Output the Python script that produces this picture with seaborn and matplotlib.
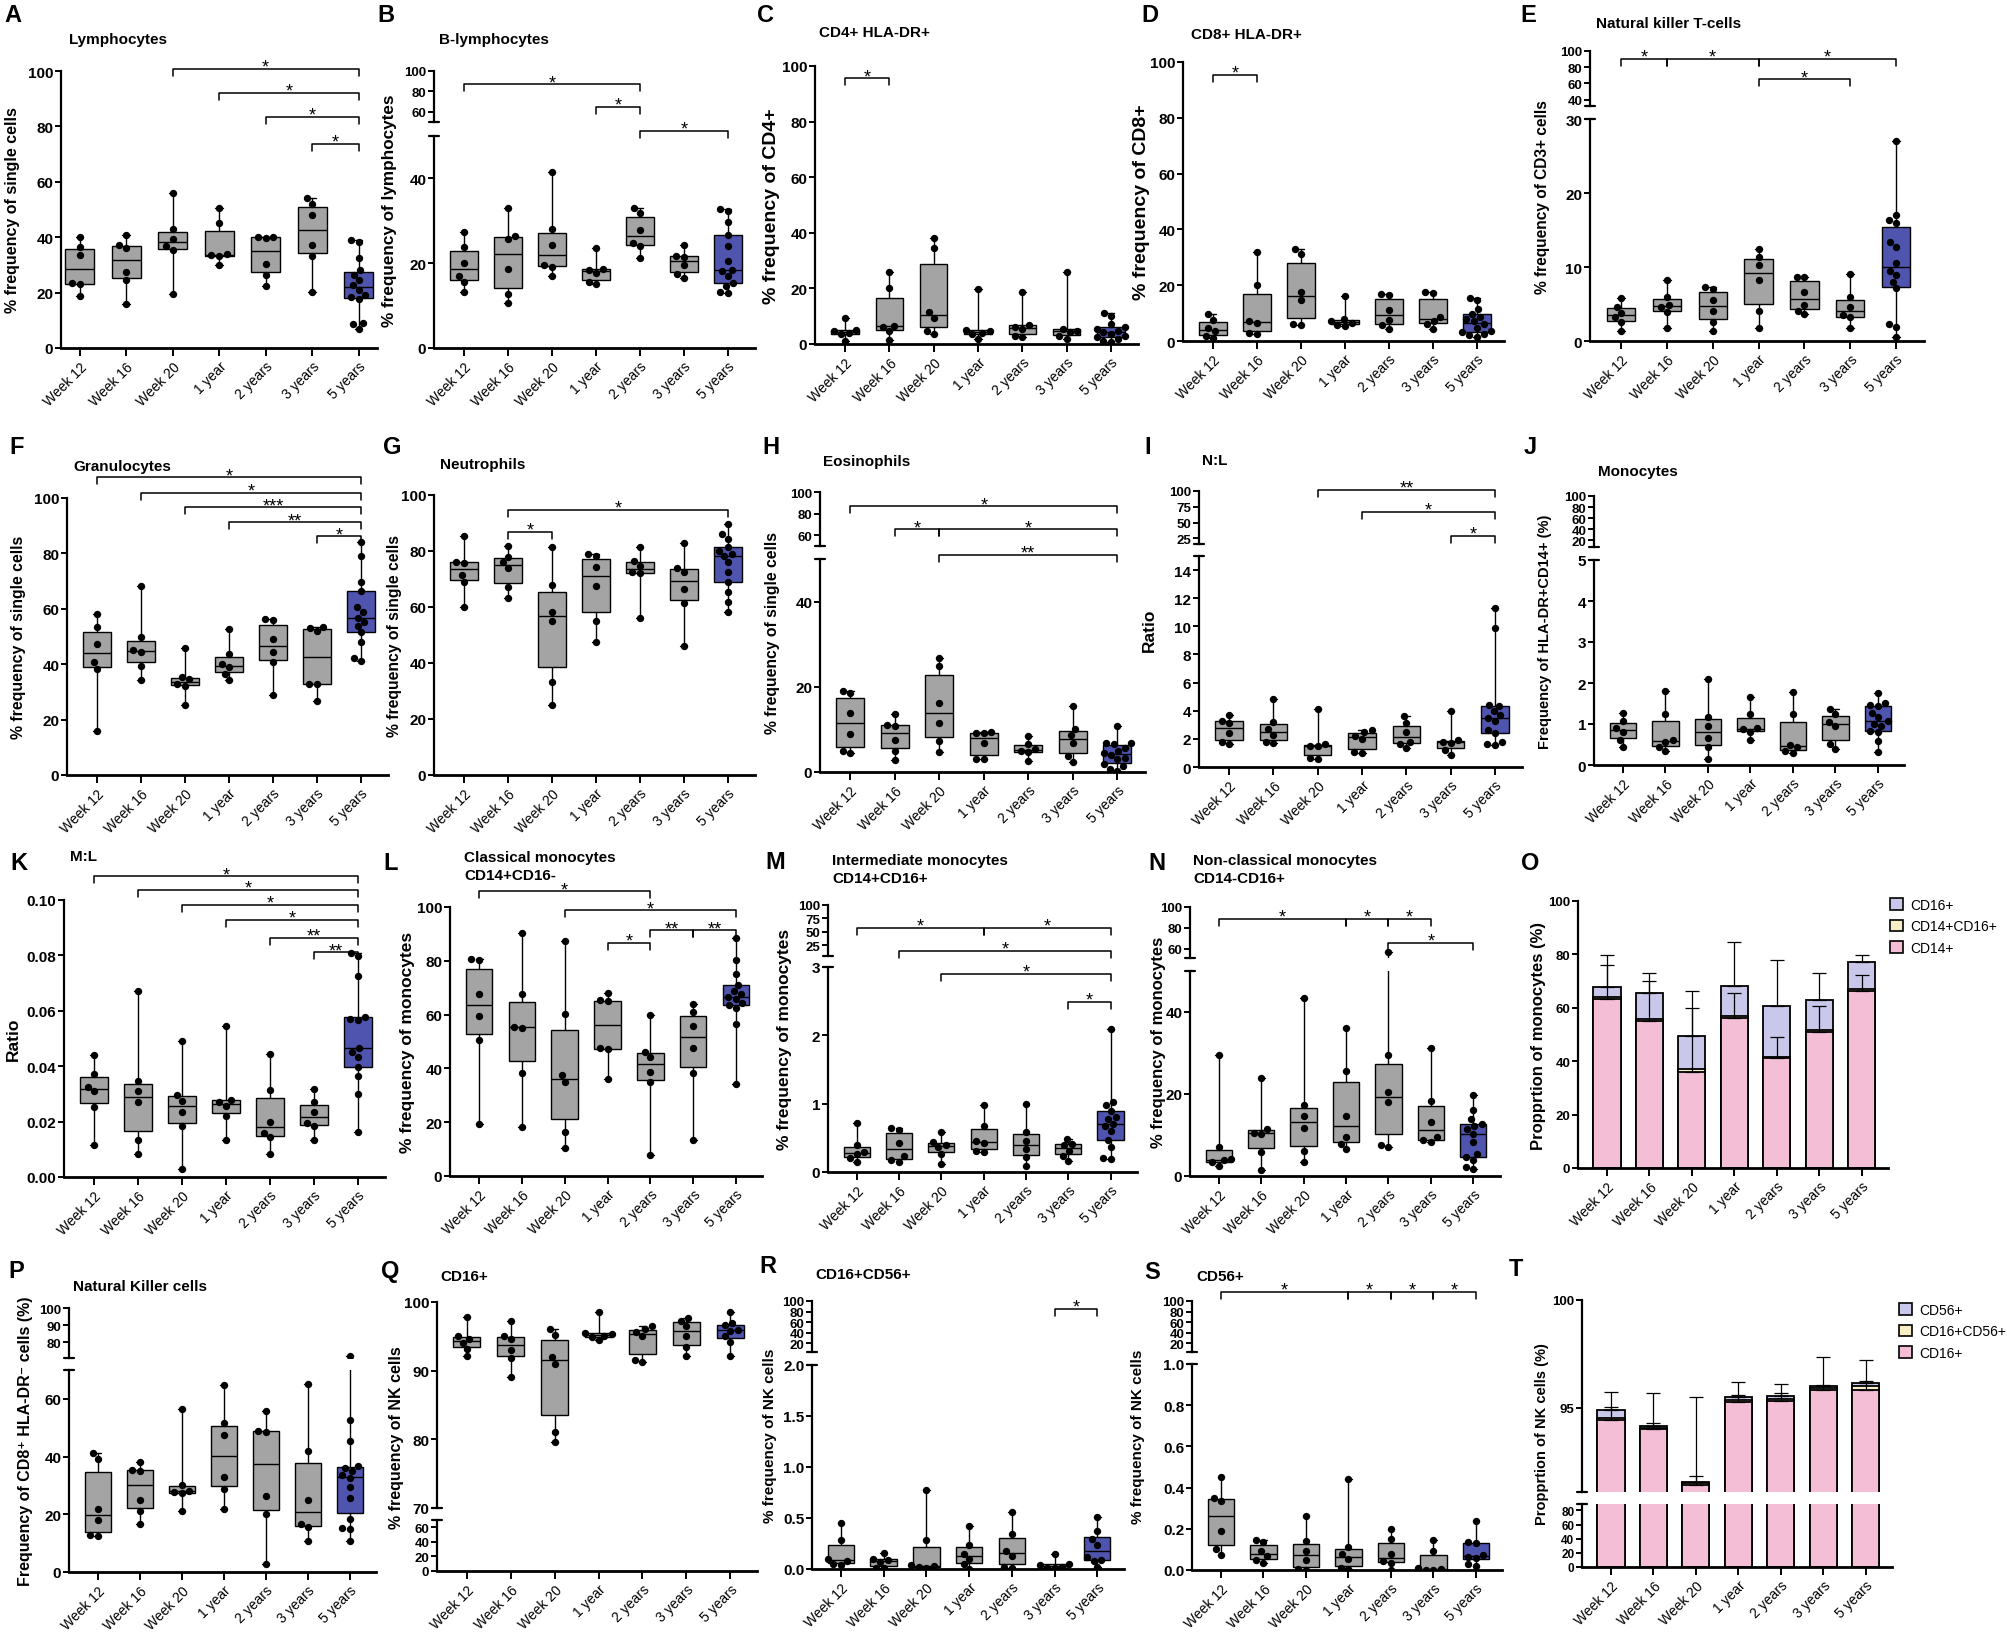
import numpy as np
import pandas as pd
import matplotlib
matplotlib.use("Agg")
import matplotlib.pyplot as plt
from matplotlib.patches import Patch
from matplotlib.ticker import FormatStrFormatter
import seaborn as sns

sns.set_theme(style="ticks")
plt.rcParams["font.family"] = ["Liberation Sans", "DejaVu Sans"]
plt.rcParams.update({"text.color": "black", "axes.labelcolor": "black",
                     "xtick.color": "black", "ytick.color": "black",
                     "axes.edgecolor": "black"})

groups = ["Week 12", "Week 16", "Week 20", "1 year", "2 years", "3 years", "5 years"]

# --- values, one list per time point ---
lymphocytes = [
    [40.0, 36.5, 33.5, 23.6, 23.0, 18.7],
    [40.7, 37.2, 36.0, 27.5, 24.5, 15.8],
    [56.0, 42.9, 39.5, 37.0, 35.5, 19.6],
    [50.6, 45.2, 33.8, 33.6, 33.3, 29.9],
    [40.2, 40.0, 39.8, 30.5, 26.3, 22.4],
    [54.0, 52.0, 48.0, 37.1, 33.3, 20.2],
    [38.9, 38.3, 32.5, 28.0, 26.3, 24.5, 22.9, 21.0, 19.2, 18.4, 17.8, 9.2, 8.8, 7.0],
]
b_lymphocytes = [
    [27.3, 23.8, 20.1, 17.0, 15.6, 13.2],
    [33.0, 26.3, 25.7, 18.7, 12.7, 10.5],
    [41.4, 28.0, 24.2, 19.5, 19.2, 17.0],
    [23.6, 18.6, 18.4, 17.8, 15.6, 15.0],
    [33.0, 31.8, 27.9, 24.8, 24.0, 21.3],
    [24.4, 21.8, 21.4, 19.5, 17.4, 16.6],
    [32.7, 32.4, 29.6, 26.7, 24.0, 20.5, 18.5, 18.2, 17.0, 15.4, 14.7, 13.1, 13.0],
]
cd4_hladr = [
    [9.5, 5.0, 4.5, 4.0, 3.5, 1.2],
    [26.0, 20.0, 6.6, 6.0, 4.5, 1.6],
    [38.0, 34.7, 11.5, 9.5, 4.8, 3.6],
    [19.8, 5.0, 4.5, 4.0, 3.5, 1.8],
    [18.8, 7.0, 6.0, 5.5, 3.0, 2.6],
    [25.8, 5.5, 4.8, 4.2, 2.8, 1.8],
    [11.0, 10.2, 7.2, 6.0, 5.4, 4.8, 4.2, 3.6, 3.0, 2.4, 1.8, 1.2, 0.6],
]
cd8_hladr = [
    [9.5, 7.4, 4.5, 3.5, 1.8, 1.0],
    [31.9, 20.0, 7.0, 6.6, 2.7, 2.5],
    [33.0, 31.3, 17.5, 14.6, 6.2, 5.8],
    [16.0, 7.8, 7.2, 6.5, 5.8, 5.2],
    [16.8, 16.4, 11.0, 7.5, 5.6, 4.4],
    [17.5, 17.3, 8.6, 7.2, 6.0, 4.4],
    [15.5, 14.6, 11.5, 9.8, 8.6, 8.0, 7.2, 6.0, 4.8, 3.6, 3.2, 2.5, 2.0, 1.5],
]
nkt_cells = [
    [5.8, 4.6, 3.8, 3.2, 2.6, 1.3],
    [8.3, 5.9, 4.9, 4.6, 3.9, 1.7],
    [7.3, 7.0, 5.5, 4.0, 2.6, 1.4],
    [12.5, 11.4, 10.3, 8.2, 4.0, 1.7],
    [8.7, 8.6, 6.6, 4.8, 4.1, 3.6],
    [9.1, 5.9, 4.6, 3.5, 3.2, 1.7],
    [27.0, 17.0, 16.3, 16.0, 13.4, 12.7, 10.5, 9.5, 8.9, 8.0, 7.1, 2.3, 1.9, 0.5],
]
granulocytes = [
    [58.1, 53.3, 47.3, 40.7, 38.3, 15.8],
    [68.4, 49.7, 45.0, 44.3, 39.5, 34.4],
    [45.7, 35.3, 34.5, 33.0, 32.3, 25.4],
    [52.7, 43.7, 40.0, 38.9, 36.5, 34.2],
    [56.3, 55.8, 49.1, 44.3, 40.7, 28.9],
    [53.5, 53.0, 52.0, 32.9, 32.8, 26.6],
    [84.0, 78.9, 69.8, 66.5, 60.5, 58.7, 56.6, 55.1, 53.9, 51.5, 48.0, 42.1, 41.3],
]
neutrophils = [
    [85.2, 76.2, 75.7, 71.5, 69.0, 59.9],
    [81.9, 78.0, 76.0, 74.0, 67.0, 63.2],
    [81.5, 67.9, 58.3, 55.1, 33.1, 25.1],
    [78.9, 78.3, 74.2, 67.6, 55.1, 47.4],
    [81.5, 76.5, 74.8, 72.6, 72.1, 56.0],
    [82.9, 73.8, 72.4, 66.4, 61.4, 46.2],
    [89.6, 86.0, 84.3, 81.3, 80.1, 79.0, 78.3, 76.0, 72.4, 69.0, 65.2, 61.7, 58.1],
]
eosinophils = [
    [18.9, 18.5, 13.9, 9.0, 4.9, 4.4],
    [13.7, 11.1, 10.9, 7.6, 4.9, 2.8],
    [26.7, 24.9, 16.2, 11.5, 7.2, 4.7],
    [9.3, 9.2, 9.1, 6.7, 3.1, 3.0],
    [8.4, 6.5, 5.4, 5.0, 4.7, 2.6],
    [15.4, 10.1, 8.6, 6.9, 3.7, 2.3],
    [10.9, 6.9, 6.7, 6.5, 5.7, 5.0, 4.5, 4.1, 3.4, 3.0, 1.8, 1.4, 0.6, 0.2],
]
nl_ratio = [
    [3.7, 3.3, 3.1, 2.4, 1.8, 1.6],
    [4.8, 3.2, 2.7, 2.3, 1.8, 1.7],
    [4.1, 1.6, 1.5, 1.5, 0.65, 0.55],
    [2.6, 2.5, 2.2, 2.0, 1.05, 1.0],
    [3.6, 3.1, 2.5, 1.8, 1.65, 1.35],
    [4.0, 1.9, 1.8, 1.7, 1.2, 0.85],
    [11.3, 9.9, 4.4, 4.35, 4.0, 3.7, 3.5, 3.3, 2.6, 2.4, 1.8, 1.6, 1.55],
]
monocytes_dr = [
    [1.26, 1.08, 0.9, 0.8, 0.6, 0.43],
    [1.81, 1.24, 0.6, 0.57, 0.43, 0.33],
    [2.09, 1.18, 0.95, 0.65, 0.45, 0.15],
    [1.65, 1.24, 0.9, 0.87, 0.8, 0.62],
    [1.77, 1.24, 0.5, 0.45, 0.35, 0.3],
    [1.36, 1.24, 1.05, 0.95, 0.51, 0.39],
    [1.75, 1.52, 1.46, 1.43, 1.28, 1.16, 1.07, 1.0, 0.96, 0.84, 0.8, 0.59, 0.31],
]
ml_ratio = [
    [0.0441, 0.0373, 0.0325, 0.0310, 0.0252, 0.0117],
    [0.0671, 0.0346, 0.0310, 0.0270, 0.0132, 0.0084],
    [0.0490, 0.0297, 0.0276, 0.0235, 0.0184, 0.0028],
    [0.0545, 0.0278, 0.0272, 0.0258, 0.0222, 0.0135],
    [0.0445, 0.0313, 0.0200, 0.0160, 0.0144, 0.0084],
    [0.0316, 0.0270, 0.0234, 0.0196, 0.0184, 0.0135],
    [0.0808, 0.0797, 0.0727, 0.0577, 0.0571, 0.0565, 0.0465, 0.0451, 0.0433,
     0.0397, 0.0364, 0.0298, 0.0162],
]
classical_mono = [
    [80.5, 80.2, 67.8, 59.5, 50.4, 19.5],
    [90.5, 67.8, 55.4, 55.2, 38.4, 18.2],
    [87.2, 60.1, 37.4, 34.9, 16.4, 10.4],
    [68.0, 65.3, 64.9, 47.6, 47.3, 36.2],
    [59.7, 46.1, 44.2, 38.7, 34.9, 7.9],
    [64.1, 61.0, 55.6, 47.6, 38.3, 13.5],
    [88.5, 80.2, 75.2, 70.9, 68.6, 67.8, 66.5, 65.9, 64.3, 63.4, 62.6, 56.6, 34.1],
]
intermediate_mono = [
    [0.72, 0.4, 0.29, 0.27, 0.2, 0.15],
    [0.64, 0.62, 0.43, 0.23, 0.17, 0.15],
    [0.585, 0.44, 0.4, 0.37, 0.27, 0.12],
    [0.98, 0.68, 0.45, 0.43, 0.31, 0.3],
    [0.99, 0.58, 0.46, 0.33, 0.22, 0.09],
    [0.49, 0.41, 0.39, 0.31, 0.24, 0.16],
    [2.1, 1.02, 0.98, 0.89, 0.8, 0.77, 0.7, 0.67, 0.6, 0.47, 0.37, 0.2, 0.19],
]
nonclassical_mono = [
    [29.6, 7.0, 4.2, 3.8, 3.4, 2.4],
    [23.9, 11.5, 10.5, 10.3, 5.8, 1.5],
    [43.3, 17.2, 14.7, 11.7, 6.0, 3.4],
    [36.2, 25.7, 14.6, 9.6, 7.9, 6.6],
    [57.0, 29.5, 20.4, 18.0, 7.5, 7.0],
    [31.3, 18.4, 13.1, 9.5, 8.7, 8.4],
    [19.8, 16.0, 13.9, 12.8, 12.3, 11.5, 10.3, 8.3, 5.4, 4.6, 3.8, 2.2, 1.8],
]
nk_cells = [
    [41.1, 39.0, 21.7, 18.0, 12.7, 12.5],
    [38.1, 35.5, 35.0, 25.0, 21.1, 16.5],
    [56.5, 30.3, 28.2, 27.8, 27.4, 21.1],
    [64.9, 51.7, 47.6, 33.0, 28.8, 21.7],
    [55.9, 48.8, 48.4, 26.3, 20.0, 2.7],
    [65.2, 41.9, 24.9, 16.8, 15.6, 10.7],
    [72.3, 52.8, 45.3, 36.7, 36.1, 35.0, 33.5, 32.6, 29.5, 25.7, 18.5, 15.3, 14.8, 10.7],
]
nk_cd16 = [
    [97.8, 95.0, 94.6, 94.1, 93.2, 92.1],
    [97.2, 95.0, 94.6, 93.0, 91.8, 89.1],
    [96.1, 95.2, 92.0, 91.0, 81.0, 79.6],
    [98.6, 95.5, 95.3, 95.1, 94.9, 94.4],
    [96.5, 96.1, 95.6, 95.1, 91.5, 91.3],
    [97.7, 97.3, 96.5, 95.0, 93.4, 92.1],
    [98.5, 97.0, 96.6, 95.9, 95.8, 95.0, 94.2, 92.1],
]
nk_cd16cd56 = [
    [0.448, 0.28, 0.1, 0.08, 0.05, 0.04],
    [0.157, 0.1, 0.09, 0.07, 0.01, 0.006],
    [0.778, 0.28, 0.035, 0.025, 0.015, 0.008],
    [0.425, 0.24, 0.15, 0.1, 0.05, 0.0],
    [0.556, 0.34, 0.18, 0.13, 0.016, 0.01],
    [0.147, 0.05, 0.04, 0.02, 0.01, 0.005],
    [0.513, 0.37, 0.29, 0.235, 0.12, 0.09, 0.08, 0.016],
]
nk_cd56 = [
    [0.452, 0.35, 0.335, 0.19, 0.1, 0.071],
    [0.146, 0.135, 0.09, 0.068, 0.05, 0.036],
    [0.263, 0.14, 0.092, 0.05, 0.005, 0.002],
    [0.44, 0.11, 0.076, 0.055, 0.01, 0.003],
    [0.198, 0.15, 0.076, 0.045, 0.036, 0.0],
    [0.146, 0.092, 0.01, 0.003, 0.001, 0.0],
    [0.238, 0.135, 0.13, 0.075, 0.065, 0.06, 0.028, 0.02],
]

# stacked bar panels (means and upper error)
mono_cd14 = [63.3, 55.2, 36.1, 56.2, 41.1, 51.1, 66.4]
mono_cd14cd16 = [0.7, 0.6, 0.8, 0.7, 0.6, 0.5, 0.8]
mono_cd16 = [3.9, 9.9, 12.6, 11.1, 18.9, 11.4, 9.8]
mono_cd14_err = [12.9, 14.9, 23.8, 9.5, 7.8, 9.4, 5.7]
mono_cd16_err = [11.9, 7.5, 16.9, 16.7, 17.4, 10.2, 2.8]

nkprop_cd16 = [94.43, 94.0, 91.44, 95.26, 95.3, 95.85, 95.82]
nkprop_cd16cd56 = [0.12, 0.08, 0.06, 0.10, 0.10, 0.06, 0.18]
nkprop_cd56 = [0.35, 0.10, 0.06, 0.14, 0.14, 0.09, 0.16]
nkprop_cd16_err = [1.30, 1.67, 4.06, 0.94, 0.80, 1.52, 1.42]
nkprop_cd56_err = [0.15, 0.12, 0.30, 0.10, 0.16, 0.05, 0.10]

# --- style ---
W, H = 2008, 1633
GRAY = "#a4a4a4"
BLUE = "#4f55ae"
PINK = "#f5bed7"
CREAM = "#f8eec6"
LAV = "#c9c8ea"
box_colors = {g: (BLUE if g == "5 years" else GRAY) for g in groups}
XLIM = (-0.68, 6.62)

fig = plt.figure(figsize=(W / 100, H / 100), dpi=100)
fig.patch.set_facecolor("white")


def add_px_axes(left, top, width, bottom):
    return fig.add_axes([left / W, 1 - bottom / H, width / W, (bottom - top) / H])


def long_df(values):
    rows = [(g, v) for g, vals in zip(groups, values) for v in vals]
    return pd.DataFrame(rows, columns=["group", "value"])


def draw_boxes(ax, df, lo, hi, points=True):
    sns.boxplot(data=df, x="group", y="value", hue="group", order=groups,
                hue_order=groups, palette=box_colors, saturation=1, whis=(0, 100),
                width=0.62, linecolor="black", linewidth=1.0, showfliers=False,
                legend=False, capwidths=0.16, ax=ax)
    inside = df[(df["value"] >= lo) & (df["value"] <= hi)]
    if points and len(inside):
        sns.swarmplot(data=inside, x="group", y="value", order=groups,
                      color="black", size=5.3, linewidth=0, ax=ax)


def style_axis(ax, ticks, lim, fmt=None, show_x=True, xlim=XLIM, size=11):
    ax.set_ylim(*lim)
    ax.set_xlim(*xlim)
    ax.set_yticks(ticks)
    if fmt:
        ax.yaxis.set_major_formatter(FormatStrFormatter(fmt))
    ax.set_xlabel("")
    ax.set_ylabel("")
    ax.grid(False)
    for side in ("top", "right"):
        ax.spines[side].set_visible(False)
    ax.spines["left"].set_linewidth(1.6)
    ax.spines["bottom"].set_linewidth(2.0)
    ax.tick_params(axis="y", length=4, width=1.4, labelsize=size, pad=1.5)
    plt.setp(ax.get_yticklabels(), fontweight="bold")
    if show_x:
        ax.set_xticks(range(len(groups)))
        ax.set_xticklabels(groups, rotation=45, ha="right", rotation_mode="anchor",
                           fontsize=10)
        ax.tick_params(axis="x", length=6, width=1.4, pad=2)
    else:
        ax.spines["bottom"].set_visible(False)
        ax.tick_params(axis="x", bottom=False, labelbottom=False)


def break_mark(ax, yfrac, width):
    d = 5 / width
    ax.plot([-d, d], [yfrac, yfrac], transform=ax.transAxes, color="black",
            lw=1.6, clip_on=False)


def bracket(ax, i, j, y, label):
    lo, hi = ax.get_ylim()
    leg = 7 / ax.bbox.height * (hi - lo)
    ax.plot([i, i, j, j], [y - leg, y, y, y - leg], color="black", lw=1.1,
            clip_on=False)
    ax.annotate(label, xy=((i + j) / 2, y), xytext=(0, -2),
                textcoords="offset points", ha="center", va="baseline",
                fontsize=13, annotation_clip=False)


def place_ylabel(ax, text, lx, span_top, span_bot, x, width, y0, y1, size):
    ax.set_ylabel(text, fontsize=size, fontweight="bold", va="center")
    ax.yaxis.set_label_coords((lx - x) / width,
                              (y1 - (span_top + span_bot) / 2) / (y1 - y0))


def panel_text(letter, lxy, title=None, txy=None):
    fig.text(lxy[0] / W, 1 - lxy[1] / H, letter, fontsize=17, fontweight="bold",
             ha="center", va="center")
    if title:
        fig.text(txy[0] / W, 1 - txy[1] / H, title, fontsize=11, fontweight="bold",
                 ha="left", va="center", linespacing=1.3)


def box_panel(values, x, step, main, ylabel, label_x, label_size=11.5, top=None,
              low=None, brackets=(), fmt=None, xlim=XLIM):
    df = long_df(values)
    width = step * (xlim[1] - xlim[0])
    y0, y1, lo, hi, ticks = main
    ax = add_px_axes(x, y0, width, y1)
    draw_boxes(ax, df, lo, hi)
    style_axis(ax, ticks, (lo, hi), fmt, show_x=low is None, xlim=xlim)
    axes = {"main": ax}
    span_top, span_bot = y0, y1
    if top is not None:
        t0, t1, tlo, thi, tticks = top
        axt = add_px_axes(x, t0, width, t1)
        draw_boxes(axt, df, tlo, thi)
        style_axis(axt, tticks, (tlo, thi), show_x=False, xlim=xlim, size=9.5)
        break_mark(axt, 0, width)
        break_mark(ax, 1, width)
        axes["top"] = axt
        span_top = t0
    if low is not None:
        b0, b1, blo, bhi, bticks = low
        axb = add_px_axes(x, b0, width, b1)
        draw_boxes(axb, df, blo, bhi, points=False)
        style_axis(axb, bticks, (blo, bhi), show_x=True, xlim=xlim, size=9.5)
        break_mark(axb, 1, width)
        break_mark(ax, 0, width)
        span_bot = b1
    place_ylabel(ax, ylabel, label_x, span_top, span_bot, x, width, y0, y1, label_size)
    for which, i, j, y, lab in brackets:
        bracket(axes[which], i, j, y, lab)
    return axes


def draw_stack(ax, parts, colors, base_err, top_err):
    cum = np.cumsum(np.array(parts), axis=0)
    for k in range(len(parts) - 1, -1, -1):
        sns.barplot(x=groups, y=cum[k], order=groups, color=colors[k], saturation=1,
                    edgecolor="black", linewidth=1.3, width=0.64, errorbar=None, ax=ax)
    pos = np.arange(len(groups))
    zeros = np.zeros(len(groups))
    ax.errorbar(pos, cum[0], yerr=[zeros, base_err], fmt="none", ecolor="black",
                elinewidth=0.9, capsize=5, capthick=0.9, zorder=5)
    ax.errorbar(pos, cum[-1], yerr=[zeros, top_err], fmt="none", ecolor="black",
                elinewidth=0.9, capsize=5, capthick=0.9, zorder=5)


def stack_legend(labels, colors, x, y):
    handles = [Patch(facecolor=c, edgecolor="black", linewidth=1.2, label=l)
               for l, c in zip(labels, colors)]
    fig.legend(handles=handles, loc="upper left", bbox_to_anchor=(x / W, 1 - y / H),
               frameon=False, fontsize=10, handlelength=1.0, handleheight=0.9,
               labelspacing=0.55, borderaxespad=0, handletextpad=0.5)


pct = list(range(0, 101, 20))

# ---- row 1 ----
panel_text("A", (13, 15), "Lymphocytes", (69, 40))
box_panel(lymphocytes, 61, 46.5, (72, 349, 0, 100, pct),
          "% frequency of single cells", 13, 11.5, xlim=(-0.4, 6.4),
          brackets=[("main", 2, 6, 100.7, "*"), ("main", 3, 6, 92, "*"),
                    ("main", 4, 6, 83.4, "*"), ("main", 5, 6, 73.6, "*")])

panel_text("B", (386, 15), "B-lymphocytes", (439, 40))
box_panel(b_lymphocytes, 434, 44, (137, 349, 0, 50, [0, 20, 40]),
          "% frequency of lymphocytes", 390, 12.3,
          top=(72, 123, 50, 100, [60, 80, 100]),
          brackets=[("top", 0, 4, 87, "*"), ("top", 3, 4, 65, "*"),
                    ("main", 4, 6, 51.2, "*")])

panel_text("C", (766, 15), "CD4+ HLA-DR+", (819, 33))
box_panel(cd4_hladr, 815, 44.3, (67, 345, 0, 100, pct), "% frequency of CD4+", 772, 14,
          brackets=[("main", 0, 1, 95.6, "*")])

panel_text("D", (1150, 15), "CD8+ HLA-DR+", (1191, 35))
box_panel(cd8_hladr, 1183, 44, (63, 342, 0, 100, pct), "% frequency of CD8+", 1142, 14,
          brackets=[("main", 0, 1, 95.5, "*")])

panel_text("E", (1528, 15), "Natural killer T-cells", (1596, 24))
box_panel(nkt_cells, 1590, 45.8, (120, 342, 0, 30, [0, 10, 20, 30]),
          "% frequency of CD3+ cells", 1543, 11.2,
          top=(52, 107, 32, 100, [40, 60, 80, 100]),
          brackets=[("top", 0, 1, 90.5, "*"), ("top", 1, 3, 90.5, "*"),
                    ("top", 3, 6, 90.5, "*"), ("top", 3, 5, 65, "*")])

# ---- row 2 ----
panel_text("F", (17, 447), "Granulocytes", (73, 467))
box_panel(granulocytes, 67, 44, (499, 776, 0, 100, pct),
          "% frequency of single cells", 19, 11.4,
          brackets=[("main", 0, 6, 107.5, "*"), ("main", 1, 6, 101.8, "*"),
                    ("main", 2, 6, 96.6, "***"), ("main", 3, 6, 91.2, "**"),
                    ("main", 5, 6, 86.2, "*")])

panel_text("G", (392, 447), "Neutrophils", (440, 465))
box_panel(neutrophils, 434, 44, (496, 776, 0, 100, pct),
          "% frequency of single cells", 395, 11.3,
          brackets=[("main", 1, 6, 94.8, "*"), ("main", 1, 2, 86.9, "*")])

panel_text("H", (771, 448), "Eosinophils", (823, 462))
box_panel(eosinophils, 820, 44.5, (560, 773, 0, 50, [0, 20, 40]),
          "% frequency of single cells", 773, 11.3,
          top=(493, 547, 50, 100, [60, 80, 100]),
          brackets=[("top", 0, 6, 86.8, "*"), ("top", 1, 2, 65.4, "*"),
                    ("top", 2, 6, 65.4, "*"), ("main", 2, 6, 51.0, "**")])

panel_text("I", (1148, 447), "N:L", (1202, 461))
box_panel(nl_ratio, 1199, 44.3, (557, 768, 0, 15, list(range(0, 15, 2))), "Ratio", 1149,
          12.5, top=(492, 545, 16, 100, [25, 50, 75, 100]),
          brackets=[("top", 2, 6, 101.6, "**"), ("top", 3, 6, 66.8, "*"),
                    ("top", 5, 6, 29, "*")])

panel_text("J", (1530, 447), "Monocytes", (1598, 472))
box_panel(monocytes_dr, 1594, 42.5, (561, 766, 0, 5, [0, 1, 2, 3, 4, 5]),
          "Frequency of HLA-DR+CD14+ (%)", 1545, 10.5,
          top=(497, 548, 8, 100, [20, 40, 60, 80, 100]))

# ---- row 3 ----
panel_text("K", (19, 864), "M:L", (70, 857))
box_panel(ml_ratio, 64, 44, (901, 1178, 0, 0.1, [0, 0.02, 0.04, 0.06, 0.08, 0.10]),
          "Ratio", 13, 12.5, fmt="%.2f",
          brackets=[("main", 0, 6, 0.1085, "*"), ("main", 1, 6, 0.1037, "*"),
                    ("main", 2, 6, 0.0983, "*"), ("main", 3, 6, 0.0929, "*"),
                    ("main", 4, 6, 0.0864, "**"), ("main", 5, 6, 0.0811, "**")])

panel_text("L", (391, 864), "Classical monocytes\nCD14+CD16-", (464, 867))
box_panel(classical_mono, 450, 42.8, (908, 1177, 0, 100, pct),
          "% frequency of monocytes", 408, 12.5,
          brackets=[("main", 0, 4, 105.8, "*"), ("main", 2, 6, 98.8, "*"),
                    ("main", 3, 4, 86.7, "*"), ("main", 4, 5, 91.3, "**"),
                    ("main", 5, 6, 91.3, "**")])

panel_text("M", (775, 863), "Intermediate monocytes\nCD14+CD16+", (832, 870))
box_panel(intermediate_mono, 828, 42.3, (968, 1173, 0, 3, [0, 1, 2, 3]),
          "% frequency of monocytes", 785, 12.5,
          top=(906, 957, 5, 100, [25, 50, 75, 100]),
          brackets=[("top", 0, 3, 58, "*"), ("top", 3, 6, 58, "*"),
                    ("top", 1, 6, 14.4, "*"), ("main", 2, 6, 2.9, "*"),
                    ("main", 5, 6, 2.49, "*")])

panel_text("N", (1157, 864), "Non-classical monocytes\nCD14-CD16+", (1193, 870))
box_panel(nonclassical_mono, 1190, 42.4, (972, 1177, 0, 50, [0, 20, 40]),
          "% frequency of monocytes", 1158, 12,
          top=(908, 959, 51, 100, [60, 80, 100]),
          brackets=[("top", 0, 3, 88.8, "*"), ("top", 3, 4, 88.8, "*"),
                    ("top", 4, 5, 88.8, "*"), ("top", 4, 6, 65.5, "*")])

panel_text("O", (1530, 864))
o_w = 42.5 * (XLIM[1] - XLIM[0])
ax_o = add_px_axes(1578, 902, o_w, 1169)
draw_stack(ax_o, [mono_cd14, mono_cd14cd16, mono_cd16], [PINK, CREAM, LAV],
           mono_cd14_err, mono_cd16_err)
style_axis(ax_o, pct, (0, 100), size=9.5)
place_ylabel(ax_o, "Propprtion of monocytes (%)", 1539, 902, 1169, 1578, o_w,
             902, 1169, 12)
stack_legend(["CD16+", "CD14+CD16+", "CD14+"], [LAV, CREAM, PINK], 1884, 893)

# ---- row 4 ----
panel_text("P", (16, 1272), "Natural Killer cells", (73, 1287))
box_panel(nk_cells, 69, 42, (1371, 1573, 0, 70, [0, 20, 40, 60]),
          "Frequency of CD8⁺ HLA-DR⁻ cells (%)", 26, 11.5,
          top=(1309, 1359, 71, 100, [80, 90, 100]))

panel_text("Q", (390, 1272), "CD16+", (440, 1277))
box_panel(nk_cd16, 437, 43.9, (1303, 1509, 70, 100, [70, 80, 90, 100]),
          "% frequency of NK cells", 397, 11.5,
          low=(1521, 1572, 0, 70, [0, 20, 40, 60]))

panel_text("R", (768, 1267), "CD16+CD56+", (815, 1275))
box_panel(nk_cd16cd56, 812, 42.7, (1366, 1570, 0, 2, [0, 0.5, 1.0, 1.5, 2.0]),
          "% frequency of NK cells", 770, 11, fmt="%.1f",
          top=(1302, 1353, 3, 100, [20, 40, 60, 80, 100]),
          brackets=[("top", 5, 6, 84.6, "*")])

panel_text("S", (1152, 1273), "CD56+", (1196, 1277))
box_panel(nk_cd56, 1192, 42.5, (1365, 1571, 0, 1, [0, 0.2, 0.4, 0.6, 0.8, 1.0]),
          "% frequency of NK cells", 1138, 11, fmt="%.1f",
          top=(1302, 1353, 3, 100, [20, 40, 60, 80, 100]),
          brackets=[("top", 0, 3, 117, "*"), ("top", 3, 4, 117, "*"),
                    ("top", 4, 5, 117, "*"), ("top", 5, 6, 117, "*")])

panel_text("T", (1516, 1270))
t_w = 42.5 * (XLIM[1] - XLIM[0])
nk_parts = [nkprop_cd16, nkprop_cd16cd56, nkprop_cd56]
nk_colors = [PINK, CREAM, LAV]
ax_tu = add_px_axes(1582, 1301, t_w, 1493)
draw_stack(ax_tu, nk_parts, nk_colors, nkprop_cd16_err, nkprop_cd56_err)
style_axis(ax_tu, [95, 100], (91.1, 100), show_x=False, size=9.5)
ax_tl = add_px_axes(1582, 1505, t_w, 1568)
draw_stack(ax_tl, nk_parts, nk_colors, nkprop_cd16_err, nkprop_cd56_err)
style_axis(ax_tl, [0, 20, 40, 60, 80], (0, 89), size=8.5)
break_mark(ax_tu, 0, t_w)
break_mark(ax_tl, 1, t_w)
place_ylabel(ax_tu, "Propprtion of NK cells (%)", 1542, 1301, 1568, 1582, t_w,
             1301, 1493, 10.5)
stack_legend(["CD56+", "CD16+CD56+", "CD16+"], [LAV, CREAM, PINK], 1893, 1298)

fig.savefig("out.png", dpi=100, facecolor="white")
